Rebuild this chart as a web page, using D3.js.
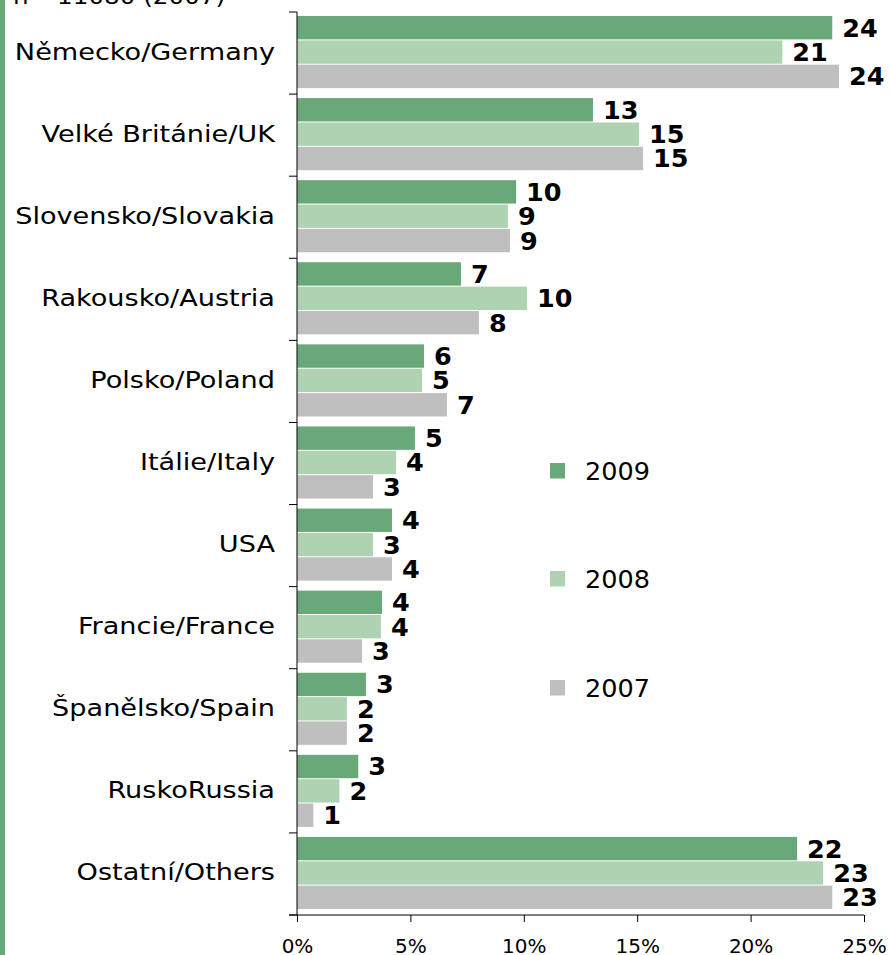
<!DOCTYPE html>
<html><head><meta charset="utf-8">
<script src="https://cdn.jsdelivr.net/npm/d3@7"></script>
<style>body{margin:0;background:#fff}</style>
</head><body>
<script>
const categories = ["Německo/Germany","Velké Británie/UK","Slovensko/Slovakia","Rakousko/Austria","Polsko/Poland","Itálie/Italy","USA","Francie/France","Španělsko/Spain","RuskoRussia","Ostatní/Others"];
const series = ["2009","2008","2007"];
const values2009 = [23.6,13.05,9.66,7.23,5.6,5.2,4.19,3.75,3.04,2.7,22.05];
const values2008 = [21.4,15.08,9.3,10.14,5.51,4.37,3.35,3.7,2.2,1.87,23.2];
const values2007 = [23.9,15.26,9.39,8.02,6.61,3.35,4.19,2.87,2.2,0.72,23.6];
const labels2009 = ["24","13","10","7","6","5","4","4","3","3","22"];
const labels2008 = ["21","15","9","10","5","4","3","4","2","2","23"];
const labels2007 = ["24","15","9","8","7","3","4","3","2","1","23"];
const xTicks = [0,5,10,15,20,25];
const colors = ["#69a878","#afd3b2","#bfbfbf"];
const noteText = "n= 11080 (2007)";

const W=890,H=955;
const svg=d3.select("body").append("svg").attr("width",W).attr("height",H);
svg.append("rect").attr("x",0).attr("y",0).attr("width",5).attr("height",H).attr("fill","#69a878");
svg.append("text").attr("transform","translate(13,4) scale(1.12,1)")
  .attr("font-family","DejaVu Sans").attr("font-size",22).text(noteText);

const x=d3.scaleLinear().domain([0,25]).range([297,864]);
const y=d3.scaleBand().domain(categories).range([12,915]);
const ySub=d3.scaleBand().domain(series).range([4,y.bandwidth()-6]).paddingInner(0.04);
const vals=[values2009,values2008,values2007];
const labs=[labels2009,labels2008,labels2007];

const g=svg.append("g");
categories.forEach((c,i)=>{
  series.forEach((s,j)=>{
    g.append("rect").attr("x",x(0)).attr("y",y(c)+ySub(s))
      .attr("width",x(vals[j][i])-x(0)).attr("height",ySub.bandwidth())
      .attr("fill",colors[j]);
    g.append("text").attr("x",x(vals[j][i])+10).attr("y",y(c)+ySub(s)+ySub.bandwidth()/2)
      .attr("dy","0.35em").attr("font-family","DejaVu Sans").attr("font-weight","bold")
      .attr("font-size",25.5).text(labs[j][i]);
  });
  svg.append("text")
    .attr("transform",`translate(275,${y(c)+y.bandwidth()/2+6.5}) scale(1.18,1)`)
    .attr("text-anchor","end").attr("font-family","DejaVu Sans").attr("font-size",23)
    .text(c);
});

// y axis line and ticks
const yAxis=svg.append("g");
yAxis.append("line").attr("x1",x(0)).attr("x2",x(0)).attr("y1",12).attr("y2",915).attr("stroke","#000");
categories.concat(["_end"]).forEach((c,i)=>{
  const yy = c==="_end"?915:y(c);
  yAxis.append("line").attr("x1",x(0)-8).attr("x2",x(0)).attr("y1",yy).attr("y2",yy).attr("stroke","#000");
});
// x axis
const xAxisG=svg.append("g").attr("transform","translate(0,915)")
  .call(d3.axisBottom(x).tickValues(xTicks).tickSize(7).tickFormat(d=>d+"%"));
xAxisG.select(".domain").remove();
xAxisG.append("line").attr("x1",289).attr("x2",864).attr("stroke","#000");
xAxisG.selectAll("text").attr("y",38).attr("dy",0)
  .attr("font-family","DejaVu Sans").attr("font-size",20).attr("fill","#000");

// legend
const lg=svg.append("g");
const legY=[471,579,688];
series.forEach((s,j)=>{
  lg.append("rect").attr("x",550).attr("y",legY[j]-8).attr("width",15).attr("height",15.5).attr("fill",colors[j]);
  lg.append("text").attr("x",585).attr("y",legY[j]+9.3).attr("font-family","DejaVu Sans").attr("font-size",25.5).text(s);
});
</script>
</body></html>
